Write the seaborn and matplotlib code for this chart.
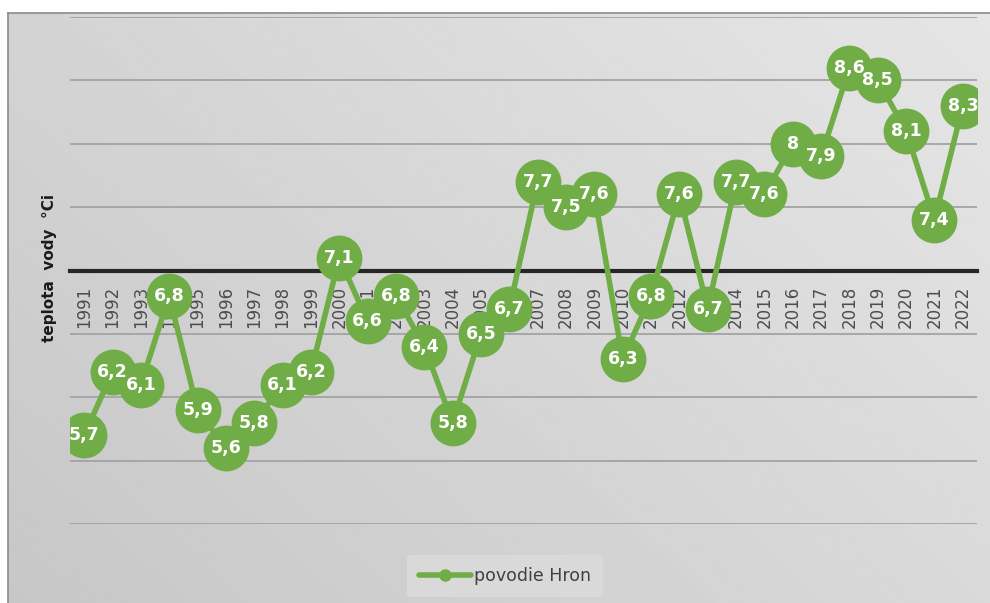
import numpy as np
import pandas as pd
import matplotlib.pyplot as plt
import seaborn as sns
from matplotlib.lines import Line2D

roky = [str(r) for r in range(1991, 2023)]
teplota = [5.7, 6.2, 6.1, 6.8, 5.9, 5.6, 5.8, 6.1, 6.2, 7.1,
           6.6, 6.8, 6.4, 5.8, 6.5, 6.7, 7.7, 7.5, 7.6, 6.3,
           6.8, 7.6, 6.7, 7.7, 7.6, 8.0, 7.9, 8.6, 8.5, 8.1,
           7.4, 8.3]
nazov = 'povodie Hron'

dados = pd.DataFrame({'rok': roky, 'teplota': teplota})

zelena = '#70ad47'
sns.set_style('white')
plt.rcParams['font.family'] = ['DejaVu Sans']

fig = plt.figure(figsize=(9.9, 6.03), dpi=100)

# pozadie s jemnym prechodom
bg = fig.add_axes([8 / 990, 0, 1 - 8 / 990, 1 - 13 / 603], zorder=0)
yy, xx = np.mgrid[0:1:200j, 0:1:200j]
grad = 0.78 + 0.12 * (0.6 * xx + 0.4 * yy)
bg.imshow(grad, cmap='gray', vmin=0, vmax=1, origin='lower', aspect='auto',
          extent=[0, 1, 0, 1])
bg.set_xticks([])
bg.set_yticks([])
for s in bg.spines.values():
    s.set_color('#8a8a8a')
    s.set_linewidth(1.2)
bg.spines['right'].set_visible(False)
bg.spines['bottom'].set_visible(False)

ax = fig.add_axes([70 / 990, 1 - 524 / 603, 907 / 990, (524 - 17) / 603], zorder=1)
ax.patch.set_alpha(0)

sns.lineplot(data=dados, x='rok', y='teplota', ax=ax, color=zelena,
             linewidth=4, marker='o', markersize=33, markeredgewidth=0,
             sort=False, zorder=3)

for i, v in enumerate(teplota):
    txt = f'{v:.1f}'.replace('.', ',')
    if txt.endswith(',0'):
        txt = txt[:-2]
    ax.text(i, v, txt, ha='center', va='center', color='white',
            fontsize=12.5, fontweight='bold', zorder=5)

ax.set_ylim(5, 9)
ax.set_xlim(-0.5, len(roky) - 0.5)
ax.set_yticks(np.arange(5, 9.01, 0.5))
ax.set_yticklabels([])
ax.tick_params(axis='y', length=0)
ax.grid(axis='y', color='#a3a3a3', linewidth=1.3)
ax.set_axisbelow(True)

for s in ['top', 'right', 'left']:
    ax.spines[s].set_visible(False)
ax.spines['bottom'].set_position(('data', 7.0))
ax.spines['bottom'].set_color('#262626')
ax.spines['bottom'].set_linewidth(3)
ax.spines['bottom'].set_zorder(2)
ax.tick_params(axis='x', length=0, pad=11, labelsize=12, labelcolor='#4d4d4d',
               labelrotation=90)
ax.set_xlabel('')
ax.set_ylabel('')

fig.text(50 / 990, 1 - 268 / 603, 'teplota  vody  °Ci', rotation=90,
         ha='center', va='center', fontsize=11, fontweight='bold',
         color='#1a1a1a')

handle = Line2D([], [], color=zelena, linewidth=4, marker='o',
                markersize=9, markeredgewidth=0)
leg = fig.legend([handle], [nazov], loc='center',
                 bbox_to_anchor=(505 / 990, 1 - 576 / 603), frameon=True,
                 fontsize=12.5, handlelength=3.0, borderpad=0.7,
                 handletextpad=0.2)
leg.get_frame().set_facecolor('#d9d9d9')
leg.get_frame().set_edgecolor('none')
leg.get_frame().set_alpha(1)
leg.get_texts()[0].set_color('#404040')

plt.savefig('out.png', dpi=100)
